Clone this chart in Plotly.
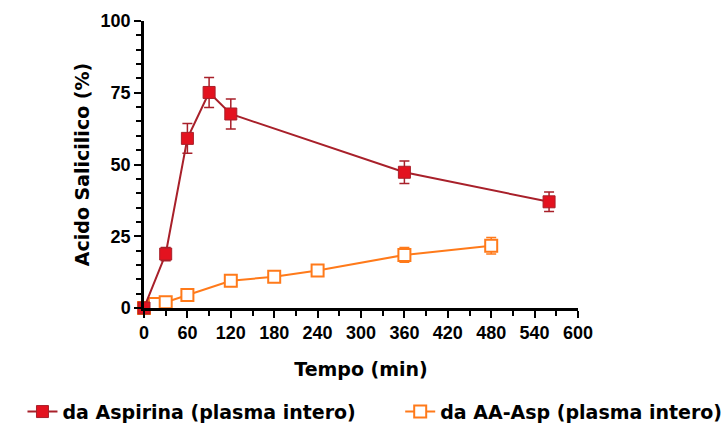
import plotly.graph_objects as go

# Data
asp_t = [0, 30, 60, 90, 120, 360, 560]
asp_y = [0, 18.8, 59.1, 75.1, 67.6, 47.3, 37.0]
asp_err = [0.5, 2.3, 5.2, 5.2, 5.2, 3.9, 3.4]

aa_t = [0, 15, 30, 60, 120, 180, 240, 360, 480]
aa_y = [0, 1.4, 2.0, 4.5, 9.5, 10.9, 13.1, 18.5, 21.7]
aa_err = [0.3, 0.5, 0.6, 0.8, 1.2, 1.3, 1.4, 2.6, 2.9]

x_ticks = [0, 60, 120, 180, 240, 300, 360, 420, 480, 540, 600]
y_ticks = [0, 25, 50, 75, 100]

red_line = "#a8202a"
red_fill = "#e3121f"
orange = "#ff7a1a"

fig = go.Figure()
fig.add_trace(go.Scatter(
    x=aa_t, y=aa_y, mode="lines+markers",
    name="da AA-Asp (plasma intero)", legend="legend2",
    line=dict(color=orange, width=2),
    marker=dict(symbol="square", size=12, color="white", line=dict(color=orange, width=2)),
    error_y=dict(type="data", array=aa_err, color=orange, thickness=1.5, width=5),
    cliponaxis=False,
))
fig.add_trace(go.Scatter(
    x=asp_t, y=asp_y, mode="lines+markers",
    name="da Aspirina (plasma intero)", legend="legend",
    line=dict(color=red_line, width=2),
    marker=dict(symbol="square", size=12, color=red_fill, line=dict(color=red_line, width=1)),
    error_y=dict(type="data", array=asp_err, color=red_line, thickness=1.5, width=5),
    cliponaxis=False,
))

axis_common = dict(
    showline=True, linecolor="black", linewidth=2.5,
    ticks="outside", ticklen=7, tickwidth=2, tickcolor="black",
    showgrid=False, zeroline=False,
    tickfont=dict(family="Liberation Sans", size=18, color="black", weight="bold"),
)
title_font = dict(family="DejaVu Sans", size=19, color="black", weight="bold")

fig.update_xaxes(
    range=[0, 600], tickvals=x_ticks, ticktext=[str(v) for v in x_ticks],
    minor=dict(dtick=30, tick0=0, ticklen=5, tickwidth=1.5, tickcolor="black", ticks="outside", showgrid=False),
    title=dict(text="Tempo (min)", font=title_font, standoff=21),
    **axis_common,
)
fig.update_yaxes(
    range=[0, 100], tickvals=y_ticks, ticktext=[str(v) for v in y_ticks],
    minor=dict(dtick=5, tick0=0, ticklen=5, tickwidth=1.5, tickcolor="black", ticks="outside", showgrid=False),
    title=dict(text="Acido Salicilico (%)", font=title_font, standoff=6),
    **axis_common,
)

legend_font = dict(family="DejaVu Sans", size=19, color="black", weight="bold")
fig.update_layout(
    width=725, height=424,
    margin=dict(l=144, r=147, t=21, b=116),
    plot_bgcolor="white", paper_bgcolor="white",
    showlegend=True,
    legend=dict(
        orientation="h", xref="container", yref="container",
        x=0.031, y=0.029, xanchor="left", yanchor="middle",
        font=legend_font, bgcolor="rgba(0,0,0,0)",
    ),
    legend2=dict(
        orientation="h", xref="container", yref="container",
        x=0.552, y=0.029, xanchor="left", yanchor="middle",
        font=legend_font, bgcolor="rgba(0,0,0,0)",
    ),
)

fig.write_html("out.html")
